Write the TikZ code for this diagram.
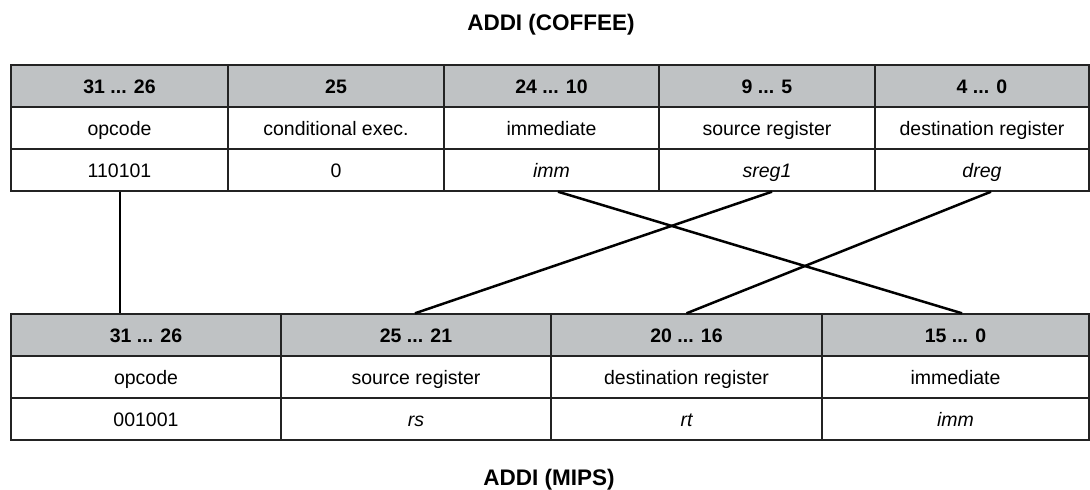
\documentclass[tikz,border=0pt]{standalone}
\usepackage{fontspec}
\setmainfont{Liberation Sans}
\usetikzlibrary{calc}
\definecolor{hdrgray}{RGB}{191,194,196}
\definecolor{rule}{RGB}{35,35,35}
\tikzset{
  cell/.style={draw=rule, line width=1.4pt, inner sep=0pt, minimum height=42pt,
    text height=16pt, text depth=2pt,
    font=\fontsize{19.5}{22}\selectfont, text=black},
  hdr/.style={cell, fill=hdrgray, font=\fontsize{19.5}{22}\selectfont\bfseries},
  title/.style={font=\fontsize{22.5}{26}\selectfont\bfseries},
  link/.style={draw=black, line width=2.5pt}
}
\begin{document}
\begin{tikzpicture}[x=1pt, y=-1pt]
\useasboundingbox (0,0) rectangle (1090,490);

% COFFEE encoding (5 fields)
\node[title] (ttop) at (551,25) {ADDI (COFFEE)};
\node[hdr,  minimum width=217] (ch1) at (119.5,86) {31 ... 26};
\node[hdr,  minimum width=216] (ch2) at (336,86)   {25};
\node[hdr,  minimum width=215] (ch3) at (551.5,86) {24 ... 10};
\node[hdr,  minimum width=216] (ch4) at (767,86)   {9 ... 5};
\node[hdr,  minimum width=214] (ch5) at (982,86)   {4 ... 0};
\node[cell, minimum width=217] (cn1) at (119.5,128) {opcode};
\node[cell, minimum width=216] (cn2) at (336,128)   {conditional exec.};
\node[cell, minimum width=215] (cn3) at (551.5,128) {immediate};
\node[cell, minimum width=216] (cn4) at (767,128)   {source register};
\node[cell, minimum width=214] (cn5) at (982,128)   {destination register};
\node[cell, minimum width=217] (cv1) at (119.5,170) {110101};
\node[cell, minimum width=216] (cv2) at (336,170)   {0};
\node[cell, minimum width=215] (cv3) at (551.5,170) {\itshape imm};
\node[cell, minimum width=216] (cv4) at (767,170)   {\itshape sreg1};
\node[cell, minimum width=214] (cv5) at (982,170)   {\itshape dreg};

% MIPS encoding (4 fields)
\node[hdr,  minimum width=270] (mh1) at (146,335)   {31 ... 26};
\node[hdr,  minimum width=270] (mh2) at (416,335)   {25 ... 21};
\node[hdr,  minimum width=271] (mh3) at (686.5,335) {20 ... 16};
\node[hdr,  minimum width=267] (mh4) at (955.5,335) {15 ... 0};
\node[cell, minimum width=270] (mn1) at (146,377)   {opcode};
\node[cell, minimum width=270] (mn2) at (416,377)   {source register};
\node[cell, minimum width=271] (mn3) at (686.5,377) {destination register};
\node[cell, minimum width=267] (mn4) at (955.5,377) {immediate};
\node[cell, minimum width=270] (mv1) at (146,419)   {001001};
\node[cell, minimum width=270] (mv2) at (416,419)   {\itshape rs};
\node[cell, minimum width=271] (mv3) at (686.5,419) {\itshape rt};
\node[cell, minimum width=267] (mv4) at (955.5,419) {\itshape imm};
\node[title] (tbot) at (549,480) {ADDI (MIPS)};

% field correspondences
\draw[link] ([xshift=0.5pt]cv1.south) -- ([xshift=0.5pt]cv1.south |- mh1.north);
\draw[link] ([xshift=6.5pt]cv3.south) -- ([xshift=6.5pt]mh4.north);
\draw[link] ([xshift=5pt]cv4.south) -- ([xshift=-1pt]mh2.north);
\draw[link] ([xshift=9pt]cv5.south) -- ([xshift=0pt]mh3.north);
\end{tikzpicture}
\end{document}
